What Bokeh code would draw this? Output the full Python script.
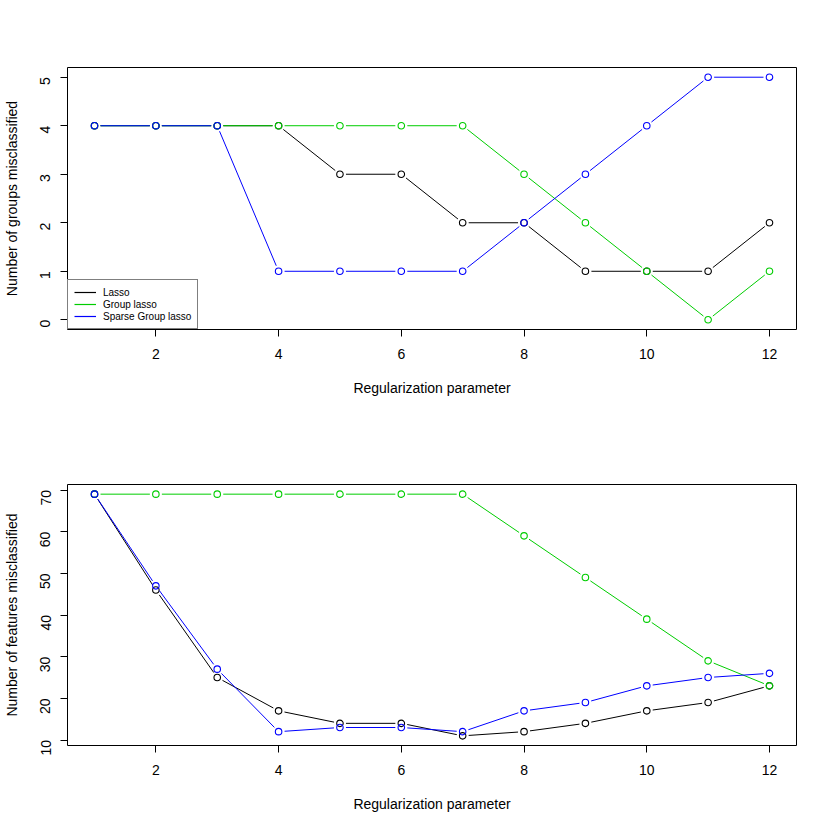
from bokeh.plotting import figure
from bokeh.layouts import column
from bokeh.models import FixedTicker, Range1d, Legend, LegendItem
from bokeh.embed import file_html
from bokeh.resources import INLINE
import math

x_vals = [1, 2, 3, 4, 5, 6, 7, 8, 9, 10, 11, 12]

groups_lasso = [4, 4, 4, 4, 3, 3, 2, 2, 1, 1, 1, 2]
groups_group = [4, 4, 4, 4, 4, 4, 4, 3, 2, 1, 0, 1]
groups_sparse = [4, 4, 4, 1, 1, 1, 1, 2, 3, 4, 5, 5]

feat_lasso = [69, 46, 25, 17, 14, 14, 11, 12, 14, 17, 19, 23]
feat_group = [69, 69, 69, 69, 69, 69, 69, 59, 49, 39, 29, 23]
feat_sparse = [69, 47, 27, 12, 13, 13, 12, 17, 19, 23, 25, 26]

x_ticks = [2, 4, 6, 8, 10, 12]
top_y_ticks = [0, 1, 2, 3, 4, 5]
bot_y_ticks = [10, 20, 30, 40, 50, 60, 70]

series_names = ["Lasso", "Group lasso", "Sparse Group lasso"]
colors = ["#000000", "#00CD00", "#0000FF"]

FONT = "Liberation Sans"
W, H = 830, 415
LEFT, RIGHT = 67, 34
GAP = 6.0  # px gap between line ends and point centres (R type="b")


def make_fig(ys, yticks, ylabel, top, bottom, legend=False):
    lo = min(min(s) for s in ys)
    hi = max(max(s) for s in ys)
    pad = (hi - lo) * 0.04
    x0r, x1r = 1 - 0.44, 12 + 0.44
    y0r, y1r = lo - pad, hi + pad
    p = figure(width=W, height=H, output_backend="svg", toolbar_location=None,
               x_range=Range1d(x0r, x1r), y_range=Range1d(y0r, y1r),
               min_border_left=LEFT, min_border_right=RIGHT,
               min_border_top=top, min_border_bottom=bottom)
    sx = (W - LEFT - RIGHT) / (x1r - x0r)
    sy = (H - top - bottom) / (y1r - y0r)
    p.background_fill_color = "white"
    p.border_fill_color = "white"
    p.outline_line_color = "black"
    p.outline_line_width = 1
    p.xgrid.visible = False
    p.ygrid.visible = False
    for ax in (p.xaxis[0], p.yaxis[0]):
        ax.axis_line_color = None
        ax.major_tick_in = 0
        ax.major_tick_out = 7
        ax.minor_tick_line_color = None
        ax.major_tick_line_color = "black"
        ax.major_label_text_font = FONT
        ax.major_label_text_font_size = "14px"
        ax.major_label_text_color = "black"
        ax.axis_label_text_font = FONT
        ax.axis_label_text_font_size = "14px"
        ax.axis_label_text_font_style = "normal"
        ax.axis_label_text_color = "black"
    p.xaxis[0].ticker = FixedTicker(ticks=x_ticks)
    p.yaxis[0].ticker = FixedTicker(ticks=yticks)
    p.xaxis[0].axis_label = "Regularization parameter"
    p.yaxis[0].axis_label = ylabel
    p.xaxis[0].major_label_standoff = 12
    p.xaxis[0].axis_label_standoff = 18
    p.yaxis[0].major_label_standoff = 15
    p.yaxis[0].axis_label_standoff = 13
    p.yaxis[0].major_label_orientation = math.pi / 2

    items = []
    for name, s, c in zip(series_names, ys, colors):
        xa, ya, xb, yb = [], [], [], []
        for i in range(len(x_vals) - 1):
            ax_, ay_ = x_vals[i], s[i]
            bx_, by_ = x_vals[i + 1], s[i + 1]
            dxp = (bx_ - ax_) * sx
            dyp = (by_ - ay_) * sy
            L = math.hypot(dxp, dyp)
            if L <= 2 * GAP:
                continue
            f = GAP / L
            xa.append(ax_ + (bx_ - ax_) * f)
            ya.append(ay_ + (by_ - ay_) * f)
            xb.append(bx_ - (bx_ - ax_) * f)
            yb.append(by_ - (by_ - ay_) * f)
        p.segment(x0=xa, y0=ya, x1=xb, y1=yb, line_color=c, line_width=1)
        p.scatter(x_vals, s, marker="circle", size=6.5, fill_color=None,
                  line_color=c, line_width=1.1)
        # legend key: one-point line (draws nothing in the plot, only in legend)
        key = p.line([x_vals[0]], [s[0]], line_color=c, line_width=1.2)
        items.append(LegendItem(label=name, renderers=[key]))
    if legend:
        lg = Legend(items=items, location="bottom_left")
        lg.margin = 0
        lg.padding = 6
        lg.spacing = 0
        lg.label_text_font = FONT
        lg.label_text_font_size = "10px"
        lg.label_text_color = "black"
        lg.label_height = 12
        lg.glyph_height = 12
        lg.glyph_width = 22
        lg.label_standoff = 7
        lg.border_line_color = "black"
        lg.border_line_width = 1
        lg.background_fill_alpha = 1
        p.add_layout(lg)
    return p


p1 = make_fig([groups_lasso, groups_group, groups_sparse], top_y_ticks,
              "Number of groups misclassified", 67, 86, legend=True)
p2 = make_fig([feat_lasso, feat_group, feat_sparse], bot_y_ticks,
              "Number of features misclassified", 69, 85)

layout = column(p1, p2, spacing=0)
open("out.html", "w").write(file_html(layout, INLINE))
